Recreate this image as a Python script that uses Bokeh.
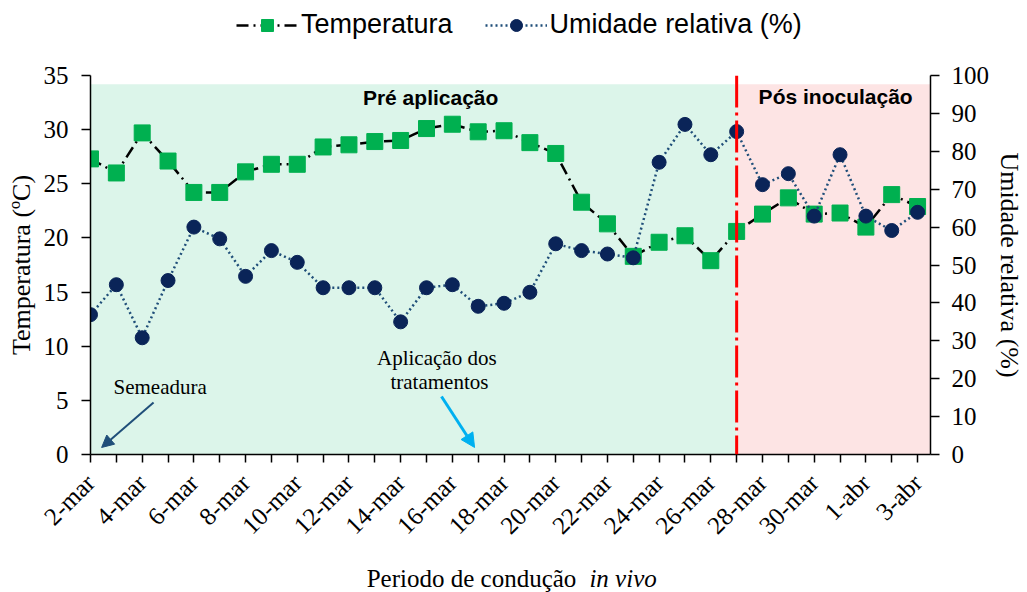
import math
from bokeh.plotting import figure
from bokeh.layouts import column
from bokeh.models import (Range1d, LinearAxis, FixedTicker, BoxAnnotation, Span,
                          Label, Arrow, NormalHead, Legend, LegendItem)
from bokeh.embed import file_html
from bokeh.resources import INLINE

# ---------------- data ----------------
dias = ["2-mar", "3-mar", "4-mar", "5-mar", "6-mar", "7-mar", "8-mar", "9-mar",
        "10-mar", "11-mar", "12-mar", "13-mar", "14-mar", "15-mar", "16-mar",
        "17-mar", "18-mar", "19-mar", "20-mar", "21-mar", "22-mar", "23-mar",
        "24-mar", "25-mar", "26-mar", "27-mar", "28-mar", "29-mar", "30-mar",
        "31-mar", "1-abr", "2-abr", "3-abr"]

temperatura = [27.3, 26.0, 29.7, 27.1, 24.2, 24.2, 26.1, 26.8, 26.8, 28.4, 28.6,
               28.9, 29.0, 30.1, 30.5, 29.8, 29.9, 28.8, 27.8, 23.3, 21.3, 18.3,
               19.6, 20.2, 17.9, 20.6, 22.2, 23.7, 22.2, 22.3, 21.0, 24.0, 22.9]

umidade = [36.9, 44.8, 30.8, 45.9, 60.0, 56.9, 47.0, 53.8, 50.7, 44.0, 44.0,
           44.0, 35.0, 44.0, 44.8, 39.1, 39.9, 42.8, 55.6, 53.8, 52.9, 51.9,
           77.1, 87.1, 79.1, 85.2, 71.2, 74.1, 62.9, 79.1, 62.9, 59.1, 63.9]

temp_ticks = [0, 5, 10, 15, 20, 25, 30, 35]
umid_ticks = [0, 10, 20, 30, 40, 50, 60, 70, 80, 90, 100]

dia_inoculacao = "27-mar"
dia_semeadura = "2-mar"
dia_aplicacao = "16-mar"

x = list(range(len(dias)))
i_inoc = dias.index(dia_inoculacao)

SERIF = "Liberation Serif"
SANS = "Liberation Sans"

TEMP_STYLE = dict(line_color="black", line_width=2.5, line_dash="12 5 2 5")
TEMP_MARK = dict(marker="square", size=16, fill_color="#00B050", line_color="#00B050")
UMID_STYLE = dict(line_color="#1F4E79", line_width=2.5, line_dash="2 3")
UMID_MARK = dict(marker="circle", size=14, fill_color="#0A2458", line_color="#0A2458")

W = 1027
H_TOP, H_BOT = 50, 36
H_MAIN = 592 - H_TOP - H_BOT

# ---------------- main chart ----------------
p = figure(width=W, height=H_MAIN, output_backend="svg",
           toolbar_location=None,
           x_range=Range1d(0, len(dias) - 0.5), y_range=Range1d(0, 35),
           min_border_left=90, min_border_right=97, min_border_top=25,
           min_border_bottom=H_MAIN - 25 - 379)
p.extra_y_ranges = {"umid": Range1d(0, 100)}
p.outline_line_color = None
p.xgrid.visible = False
p.ygrid.visible = False
p.background_fill_color = "white"

top_shade = 34.2
p.add_layout(BoxAnnotation(left=0, right=i_inoc, bottom=0, top=top_shade,
                           fill_color="#DCF5EA", fill_alpha=1, line_alpha=0,
                           level="underlay"))
p.add_layout(BoxAnnotation(left=i_inoc, right=len(dias) - 0.5, bottom=0, top=top_shade,
                           fill_color="#FDE4E4", fill_alpha=1, line_alpha=0,
                           level="underlay"))

p.line(x, temperatura, **TEMP_STYLE)
p.scatter(x, temperatura, **TEMP_MARK)

p.add_layout(Span(location=i_inoc, dimension="height", line_color="#FF0000",
                  line_width=3, line_dash="32 5 3 5"))

p.line(x, umidade, y_range_name="umid", **UMID_STYLE)
p.scatter(x, umidade, y_range_name="umid", **UMID_MARK)

xa = p.xaxis[0]
xa.ticker = FixedTicker(ticks=x)
xa.major_label_overrides = {i: (d if i % 2 == 0 else "") for i, d in enumerate(dias)}
xa.major_label_orientation = math.pi / 4
xa.major_label_text_font = SERIF
xa.major_label_text_font_size = "25px"
xa.major_label_text_color = "black"
xa.major_tick_out = 8
xa.major_tick_in = 0
xa.minor_tick_line_color = None
xa.axis_line_color = "black"
xa.axis_line_width = 1.5
xa.major_tick_line_color = "black"
xa.major_tick_line_width = 1.5
xa.major_label_standoff = 16

ya = p.yaxis[0]
ya.ticker = FixedTicker(ticks=temp_ticks)
ya.axis_label = "Temperatura (ºC)"
ya.axis_label_text_font = SERIF
ya.axis_label_text_font_size = "26px"
ya.axis_label_text_font_style = "normal"
ya.axis_label_text_color = "black"
ya.axis_label_standoff = 5
ya.major_label_text_font = SERIF
ya.major_label_text_font_size = "25px"
ya.major_label_text_color = "black"
ya.major_label_standoff = 13
ya.major_tick_out = 9
ya.major_tick_in = 0
ya.minor_tick_line_color = None
ya.axis_line_color = "black"
ya.axis_line_width = 1.5
ya.major_tick_line_width = 1.5

ry = LinearAxis(y_range_name="umid", ticker=FixedTicker(ticks=umid_ticks))
ry.axis_label = "Umidade relativa (%)"
ry.axis_label_text_font = SERIF
ry.axis_label_text_font_size = "26px"
ry.axis_label_text_font_style = "normal"
ry.axis_label_text_color = "black"
ry.axis_label_standoff = 3
ry.major_label_text_font = SERIF
ry.major_label_text_font_size = "25px"
ry.major_label_text_color = "black"
ry.major_label_standoff = 12
ry.major_tick_out = 9
ry.major_tick_in = 0
ry.minor_tick_line_color = None
ry.axis_line_color = "black"
ry.axis_line_width = 1.5
ry.major_tick_line_width = 1.5
p.add_layout(ry, "right")

def txt(fig, x, y, text, align="center", font=SERIF, size="21px", style="normal"):
    fig.add_layout(Label(x=x, y=y, text=text, text_align=align,
                         text_baseline="alphabetic", text_font=font,
                         text_font_style=style, text_font_size=size,
                         text_color="black"))

txt(p, 13.16, 32.95, "Pré aplicação", font=SANS, style="bold")
txt(p, 28.83, 33.05, "Pós inoculação", font=SANS, style="bold")

txt(p, 0.89, 6.2, "Semeadura", align="left")
p.add_layout(Arrow(x_start=2.44, y_start=4.8, x_end=dias.index(dia_semeadura) + 0.43,
                   y_end=0.65, line_color="#1F4E79", line_width=2,
                   end=NormalHead(size=12, fill_color="#1F4E79", line_color="#1F4E79")))
txt(p, 13.5, 8.87, "Aplicação  dos")
txt(p, 13.5, 6.74, "tratamentos")
p.add_layout(Arrow(x_start=13.58, y_start=5.36, x_end=dias.index(dia_aplicacao) + 0.86,
                   y_end=0.65, line_color="#00B0F0", line_width=3,
                   end=NormalHead(size=14, fill_color="#00B0F0", line_color="#00B0F0")))

# ---------------- legend strip (top) ----------------
# same series drawn outside the visible range: only their legend keys show
lg = figure(width=W, height=H_TOP, output_backend="svg", toolbar_location=None,
            x_range=Range1d(0, 1), y_range=Range1d(-20, -19),
            x_axis_type=None, y_axis_type=None, min_border=0)
lg.outline_line_color = None
lg.xgrid.visible = False
lg.ygrid.visible = False
gl1 = lg.line(x, temperatura, **TEMP_STYLE)
gs1 = lg.scatter(x, temperatura, **TEMP_MARK)
gl2 = lg.line(x, umidade, **UMID_STYLE)
gs2 = lg.scatter(x, umidade, **UMID_MARK)
legend = Legend(items=[LegendItem(label="Temperatura", renderers=[gl1, gs1]),
                       LegendItem(label="Umidade relativa (%)", renderers=[gl2, gs2])],
                location=(146, 10), orientation="horizontal",
                glyph_width=62, glyph_height=30, label_height=30,
                label_standoff=3, spacing=32, padding=0, margin=0,
                border_line_color=None, background_fill_alpha=0,
                label_text_font=SANS, label_text_font_size="27px",
                label_text_color="black")
lg.add_layout(legend)

# ---------------- x-axis title strip (bottom) ----------------
t = figure(width=W, height=H_BOT, output_backend="svg", toolbar_location=None,
           x_range=Range1d(0, W), y_range=Range1d(0, H_BOT),
           x_axis_type=None, y_axis_type=None, min_border=0)
t.outline_line_color = None
t.xgrid.visible = False
t.ygrid.visible = False
txt(t, 594, 14, "Periodo de condução", align="right", size="25px")
txt(t, 610, 14, "in vivo", align="left", size="25px", style="italic")

layout = column(lg, p, t, spacing=0)
open("out.html", "w").write(file_html(layout, INLINE))
